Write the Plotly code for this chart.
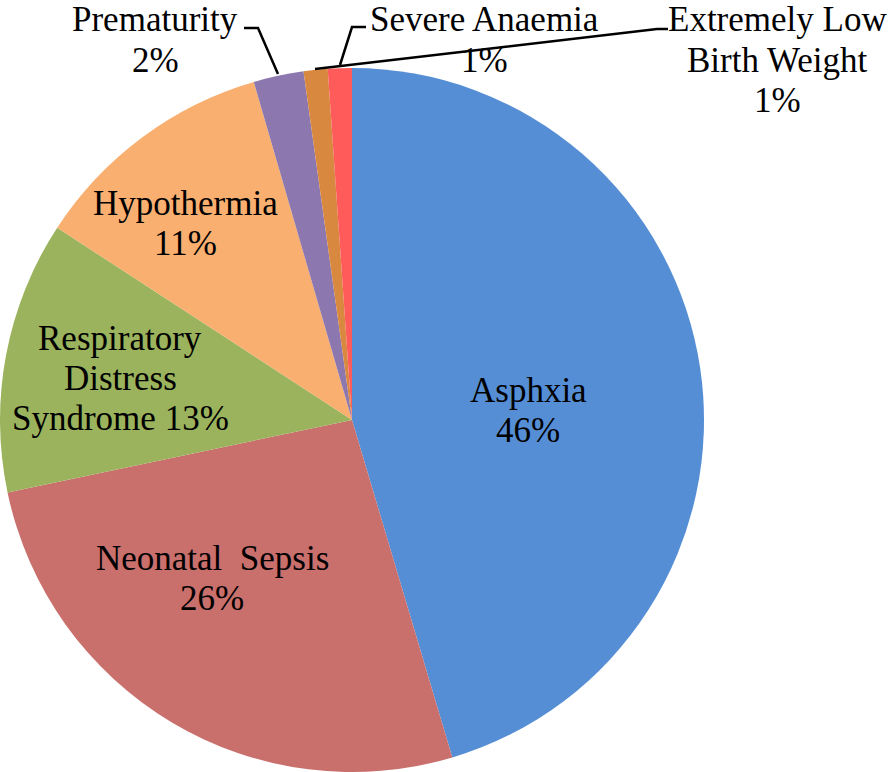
import plotly.graph_objects as go

categories = ["Asphxia", "Neonatal  Sepsis", "Respiratory Distress Syndrome", "Hypothermia",
              "Prematurity", "Severe Anaemia", "Extremely Low Birth Weight"]
values = [45.4, 26.3, 12.5, 11.3, 2.3, 1.1, 1.1]
pct_labels = ["46%", "26%", "13%", "11%", "2%", "1%", "1%"]
label_lines = [["Asphxia", "46%"], ["Neonatal&nbsp; Sepsis", "26%"],
               ["Respiratory", "Distress", "Syndrome 13%"], ["Hypothermia", "11%"],
               ["Prematurity", "2%"], ["Severe Anaemia", "1%"],
               ["Extremely Low", "Birth Weight", "1%"]]
colors = ["#558ED5", "#C96F6C", "#9BB35C", "#F9AF70", "#8C78AE", "#D9883F", "#FF5B5B"]

W, H = 896, 772
# x centre and first-line y centre of each label block (pixels)
label_pos = [(528, 390), (212, 558), (120, 338), (185, 203), (155, 20), (484, 20), (777, 20)]
LINE_GAP = 40
FONT = "Liberation Serif"
FSIZE = 35

fig = go.Figure(go.Pie(
    labels=categories, values=values, sort=False, direction="clockwise", rotation=0,
    marker=dict(colors=colors, line=dict(width=0)), textinfo="none", hoverinfo="label+percent",
    showlegend=False,
    domain=dict(x=[0, 704 / W], y=[0, 704 / H]),
))

def px(x, y):
    return x / W, 1 - y / H

annotations = []
for lines, (x, y) in zip(label_lines, label_pos):
    for i, line in enumerate(lines):
        ax, ay = px(x, y + i * LINE_GAP)
        annotations.append(dict(x=ax, y=ay, xref="paper", yref="paper", text=line, showarrow=False,
                                xanchor="center", yanchor="middle", align="center",
                                font=dict(family=FONT, size=FSIZE, color="black")))

leaders = [
    [(244, 28), (258, 28), (278, 74)],
    [(366, 27), (352, 27), (340, 65)],
    [(668, 29), (657, 29), (315, 69)],
]
shapes = []
for pts in leaders:
    path = "M " + " L ".join(f"{px(x, y)[0]},{px(x, y)[1]}" for x, y in pts)
    shapes.append(dict(type="path", xref="paper", yref="paper", path=path,
                       line=dict(color="black", width=2.5)))

fig.update_layout(width=W, height=H, margin=dict(l=0, r=0, t=0, b=0),
                  paper_bgcolor="white", plot_bgcolor="white",
                  annotations=annotations, shapes=shapes)
fig.write_html("out.html", config={"displayModeBar": False},
               post_script="document.body.style.margin='0px';")
